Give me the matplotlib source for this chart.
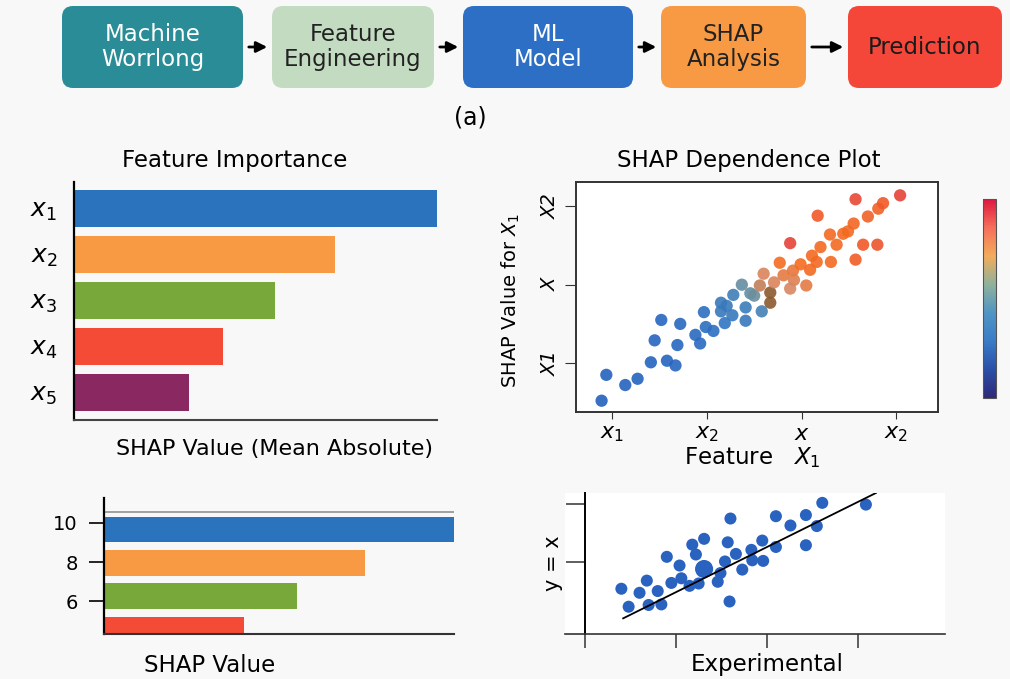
"""
SHAP workflow figure: pipeline boxes, feature importance bars,
dependence scatter and a predicted-vs-experimental panel
"""

import numpy as np
import matplotlib
matplotlib.use('Agg')
from matplotlib import pyplot as plt
from matplotlib.patches import FancyBboxPatch
from matplotlib.colors import LinearSegmentedColormap
import matplotlib.cm as cm

# ---- data ----
steps = ['Machine\nWorrlong', 'Feature\nEngineering', 'ML\nModel', 'SHAP\nAnalysis', 'Prediction']

feat_names = ['$x_1$', '$x_2$', '$x_3$', '$x_4$', '$x_5$']
feat_imp = [1.0, 0.72, 0.555, 0.41, 0.317]

shap_levels = [9.65, 7.95, 6.25, 4.55]
shap_vals = [1.0, 0.746, 0.551, 0.40]
shap_ticks = [10, 8, 6]

dep_x = [0.89, 0.94, 1.14, 1.27, 1.41, 1.45, 1.52, 1.58, 1.67, 1.69,
         1.72, 1.88, 1.93, 1.97, 1.99, 2.07, 2.15, 2.15, 2.21, 2.19,
         2.27, 2.28, 2.37, 2.41, 2.41, 2.46, 2.50, 2.58, 2.56, 2.60,
         2.67, 2.67, 2.71, 2.77, 2.81, 2.88, 2.91, 2.92, 2.88, 2.99,
         3.05, 3.09, 3.11, 3.16, 3.17, 3.20, 3.30, 3.31, 3.37, 3.44,
         3.49, 3.55, 3.57, 3.57, 3.65, 3.70, 3.80, 3.81, 3.86, 4.04]
dep_y = [0.52, 0.85, 0.72, 0.80, 1.01, 1.29, 1.55, 1.03, 0.97, 1.23,
         1.50, 1.36, 1.25, 1.65, 1.46, 1.41, 1.77, 1.66, 1.73, 1.51,
         1.61, 1.87, 2.00, 1.71, 1.54, 1.89, 1.86, 1.66, 1.99, 2.14,
         1.90, 1.77, 2.03, 2.28, 2.12, 2.53, 2.18, 2.06, 1.95, 2.26,
         1.99, 2.19, 2.37, 2.29, 2.88, 2.48, 2.64, 2.29, 2.51, 2.65,
         2.68, 2.78, 3.09, 2.32, 2.51, 2.87, 2.51, 2.97, 3.04, 3.14]
dep_c = [0.02, 0.03, 0.04, 0.05, 0.06, 0.07, 0.08, 0.07, 0.08, 0.09,
         0.10, 0.14, 0.13, 0.18, 0.18, 0.20, 0.30, 0.30, 0.30, 0.26,
         0.30, 0.34, 0.48, 0.32, 0.30, 0.48, 0.50, 0.36, 0.64, 0.68,
         0.58, 0.58, 0.68, 0.78, 0.72, 0.98, 0.74, 0.70, 0.67, 0.78,
         0.72, 0.80, 0.80, 0.80, 0.90, 0.80, 0.80, 0.80, 0.80, 0.80,
         0.80, 0.82, 0.96, 0.88, 0.90, 0.86, 0.92, 0.86, 0.90, 0.97]

exp_x = [0.40, 0.48, 0.60, 0.68, 0.70, 0.80, 0.84, 0.90, 0.95, 1.04,
         1.06, 1.15, 1.18, 1.22, 1.25, 1.31, 1.31, 1.46, 1.49, 1.54,
         1.57, 1.59, 1.60, 1.66, 1.73, 1.83, 1.84, 1.95, 1.96, 2.10,
         2.10, 2.26, 2.43, 2.43, 2.55, 2.61, 3.09]
exp_y = [0.54, 0.23, 0.47, 0.68, 0.26, 0.50, 0.27, 1.09, 0.64, 0.94,
         0.72, 0.59, 1.30, 1.13, 0.63, 1.40, 0.88, 0.66, 0.81, 1.01,
         1.34, 0.32, 1.75, 1.14, 0.87, 1.21, 1.03, 1.37, 1.02, 1.79,
         1.26, 1.63, 1.81, 1.29, 1.62, 2.02, 1.99]
fit_x = [0.42, 3.20]
fit_y = [0.03, 2.19]

# ---- styles ----
W, H = 1010, 679
step_colors = ['#2a8c96', '#c3dcc1', '#2d6fc4', '#f79a43', '#f4473a']
step_txt = ['white', '#222222', 'white', '#222222', '#1a1a1a']
box_x = [(62, 243), (272, 434), (463, 633), (661, 806), (848, 1002)]
bar_colors = ['#2b73bd', '#f79a43', '#78a83a', '#f44b37', '#8a2862']
# the big dot in the bottom-right scatter
exp_sizes = [75] * len(exp_x)
exp_sizes[16] = 170


def rect(x0, y0, x1, y1):
    return [x0 / W, 1 - y1 / H, (x1 - x0) / W, (y1 - y0) / H]


def ftext(x, y, s, **kw):
    kw.setdefault('ha', 'center')
    kw.setdefault('va', 'center')
    fig.text(x / W, 1 - y / H, s, **kw)


fig = plt.figure(figsize=(W / 100, H / 100), dpi=100, facecolor='#f8f8f8')

# --- pipeline boxes ---
ax0 = fig.add_axes([0, 0, 1, 1])
ax0.set_xlim(0, W)
ax0.set_ylim(H, 0)
ax0.axis('off')
for i, (x0, x1) in enumerate(box_x):
    ax0.add_patch(FancyBboxPatch((x0, 6), x1 - x0, 82,
                                 boxstyle='round,pad=0,rounding_size=11',
                                 fc=step_colors[i], ec='none'))
    ax0.text((x0 + x1) / 2, 47, steps[i], ha='center', va='center',
             fontsize=16.5, color=step_txt[i], linespacing=1.1)
    if i < len(box_x) - 1:
        ax0.annotate('', xy=(box_x[i + 1][0] - 2, 47), xytext=(x1 + 3, 47),
                     arrowprops=dict(arrowstyle='-|>', color='black', lw=2,
                                     mutation_scale=16))
ftext(470, 117, '(a)', fontsize=17)

# --- Feature importance ---
axA = fig.add_axes(rect(74, 182, 437, 420))
yy = np.arange(len(feat_imp))
axA.barh(yy, feat_imp, height=0.8, color=bar_colors)
axA.set_xlim(0, 1.0)
axA.set_ylim(4.6, -0.57)
axA.set_xticks([])
axA.set_yticks(yy, feat_names, fontsize=18)
axA.tick_params(axis='y', length=0, pad=12)
axA.patch.set_alpha(0)
for s in ['top', 'right']:
    axA.spines[s].set_visible(False)
axA.spines['left'].set_linewidth(1.6)
axA.spines['bottom'].set_linewidth(1.5)
axA.spines['bottom'].set_color('#444444')
ftext(235, 160, 'Feature Importance', fontsize=16.5)
ftext(275, 449, 'SHAP Value (Mean Absolute)', fontsize=16)

# --- Dependence plot ---
pts_cmap = LinearSegmentedColormap.from_list('pts', [
    (0.0, '#2360bd'), (0.25, '#2f73c2'), (0.4, '#4a86b0'), (0.5, '#6b8fa0'),
    (0.58, '#8b5a2e'), (0.66, '#d58a6a'), (0.78, '#f36c20'), (0.9, '#f05a28'),
    (1.0, '#e23c3c')])
axB = fig.add_axes(rect(576, 182, 938, 412))
axB.scatter(dep_x, dep_y, c=dep_c, cmap=pts_cmap, vmin=0, vmax=1, s=78,
            alpha=0.9, edgecolors='none')
axB.set_xlim(0.62, 4.44)
axB.set_ylim(0.376, 3.31)
axB.set_xticks([1, 2, 3, 4], ['$x_1$', '$x_2$', '$x$', '$x_2$'], fontsize=16)
axB.set_yticks([1, 2, 3], ['X1', 'X', 'X2'], rotation=90, va='center',
               fontsize=14, style='italic')
axB.tick_params(axis='x', length=5, color='#333333')
axB.tick_params(axis='y', length=8, color='#333333')
for s in axB.spines.values():
    s.set_linewidth(1.4)
    s.set_color('#333333')
ftext(749, 161, 'SHAP Dependence Plot', fontsize=16.5)
ftext(752, 458, 'Feature   $X_1$', fontsize=16.5)
ftext(511, 300, 'SHAP Value for $X_1$', rotation=90, fontsize=14,
      family=['Liberation Sans Narrow', 'DejaVu Sans'])

cb_cmap = LinearSegmentedColormap.from_list('cb', [
    '#2e2a7a', '#2b4fa8', '#3a7cc8', '#4f95c4', '#8fb19c', '#f2ac5c',
    '#f66f5a', '#e0173f'])
cax = fig.add_axes(rect(983, 199, 996, 398))
cb = fig.colorbar(cm.ScalarMappable(cmap=cb_cmap), cax=cax)
cb.set_ticks([])
cb.outline.set_linewidth(0.8)
cb.outline.set_edgecolor('#555555')

# --- SHAP value bars ---
axC = fig.add_axes(rect(104, 498, 454, 634))
axC.barh(shap_levels, shap_vals, height=1.3, color=bar_colors[:4])
axC.axhline(10.56, color='#999999', lw=1.3)
axC.set_xlim(0, 1.0)
axC.set_ylim(4.31, 11.28)
axC.set_xticks([])
axC.set_yticks(shap_ticks, [str(t) for t in shap_ticks], fontsize=14)
axC.tick_params(axis='y', length=11, width=1.2, pad=8)
axC.patch.set_alpha(0)
for s in ['top', 'right']:
    axC.spines[s].set_visible(False)
axC.spines['left'].set_linewidth(1.6)
axC.spines['bottom'].set_linewidth(1.5)
axC.spines['bottom'].set_color('#333333')
ftext(210, 665, 'SHAP Value', fontsize=16.5)

# --- Predicted vs experimental ---
axD = fig.add_axes(rect(565, 493, 945, 634))
axD.scatter(exp_x, exp_y, s=exp_sizes, color='#2a62c0', edgecolors='none',
            zorder=3)
axD.plot(fit_x, fit_y, color='black', lw=1.3, zorder=4)
axD.set_xlim(-0.22, 3.96)
axD.set_ylim(-0.24, 2.19)
axD.set_xticks([0, 1, 2, 3], [])
axD.set_yticks([1, 2], [])
axD.tick_params(axis='x', length=10, width=1.1, color='#333333')
axD.tick_params(axis='y', length=14, width=1.1, color='#333333')
axD.spines['left'].set_position(('data', 0))
for s in ['top', 'right']:
    axD.spines[s].set_visible(False)
axD.spines['left'].set_linewidth(1.4)
axD.spines['bottom'].set_linewidth(1.2)
axD.spines['bottom'].set_color('#333333')
ftext(553, 563, 'y = x', rotation=90, fontsize=15)
ftext(767, 665, 'Experimental', fontsize=16.5)

fig.savefig('out.png', dpi=100, facecolor=fig.get_facecolor())
